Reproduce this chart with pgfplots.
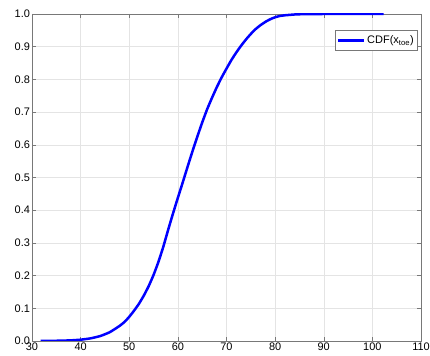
\documentclass[border=0pt]{standalone}
\usepackage{fontspec}
\setmainfont{Liberation Sans}
\usepackage{pgfplots}
\pgfplotsset{compat=1.18}

\definecolor{axgray}{RGB}{120,120,120}
\definecolor{gridgray}{RGB}{228,228,228}

\begin{document}
\begin{tikzpicture}
\begin{axis}[
  scale only axis,
  width=389bp, height=327bp,
  xmin=30, xmax=110, ymin=0, ymax=1,
  xtick={30,40,...,110},
  ytick={0,0.1,...,1.0},
  yticklabel style={/pgf/number format/.cd, fixed, fixed zerofill, precision=1},
  /pgf/number format/assume math mode=true,
  tick label style={font=\fontsize{11}{13}\selectfont, text=black},
  tick align=inside,
  major tick length=4bp,
  axis line style={axgray},
  every tick/.style={axgray},
  grid=major,
  major grid style={gridgray, line width=0.5pt},
  xticklabel shift=-2bp,
  yticklabel shift=-1.5bp,
  legend style={at={(0.992,0.951)}, anchor=north east, draw=axgray,
    font=\fontsize{11}{13}\selectfont, inner xsep=2bp, inner ysep=3.5bp,
    legend cell align=left},
  legend image code/.code={\draw[#1, line width=2.5bp] (0cm,0cm) -- (0.9cm,0cm);},
]
\addplot[blue, line width=2.5bp, line join=round, smooth, tension=0.3] coordinates {
  (31.8,0.0000) (34,0.0005) (36,0.001) (38,0.002) (40,0.004) (42,0.008)
  (44,0.015) (46,0.027) (48,0.046) (49,0.058) (50,0.074) (51,0.093)
  (52,0.114) (53,0.139) (54,0.168) (55,0.202) (56,0.242) (57,0.288)
  (58,0.340) (59,0.390) (60,0.438) (61,0.485) (62,0.533) (63,0.580)
  (64,0.625) (65,0.668) (66,0.708) (67,0.743) (68,0.776) (69,0.806)
  (70,0.833) (71,0.859) (72,0.882) (73,0.903) (74,0.922) (75,0.939)
  (76,0.954) (77,0.966) (78,0.976) (79,0.984) (80,0.990) (81,0.994)
  (82,0.996) (84,0.9985) (86,0.9996) (90,1.000) (102.3,1.000)
};
\addlegendentry{CDF(x$_{\mathrm{toe}}$)}
\end{axis}
\pgfresetboundingbox
\path[use as bounding box] ([xshift=-32bp,yshift=-15bp]current axis.south west)
  rectangle ([xshift=9bp,yshift=14bp]current axis.north east);
\end{tikzpicture}
\end{document}
